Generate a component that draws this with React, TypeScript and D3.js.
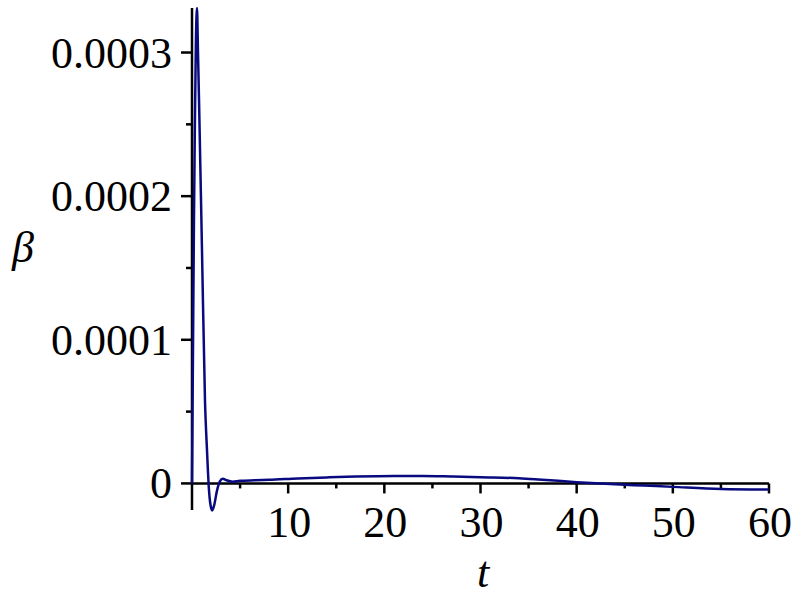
import React from "react";
import * as d3 from "d3";

const tValues = [
  0, 0.1, 0.2, 0.3, 0.4, 0.52, 0.62, 0.73, 1.04, 1.35, 1.56, 1.77, 2.0, 2.1,
  2.3, 2.6, 2.9, 3.2, 3.6, 4.2, 5, 6.5, 8, 11, 14, 17, 21, 24, 27, 30, 34,
  36, 40, 44.5, 47, 50, 55, 60,
];
const betaValues = [
  0, 0.00009, 0.00018, 0.00025, 0.000305, 0.000331, 0.000301, 0.000267,
  0.000162, 0.0000578, 0.000023, -0.000005, -0.0000174, -0.0000188,
  -0.0000153, -0.000005, 0.0000014, 0.0000033, 0.0000022, 0.0000012,
  0.0000018, 0.0000022, 0.0000025, 0.0000035, 0.0000042, 0.0000048,
  0.0000052, 0.0000052, 0.0000048, 0.0000043, 0.0000036, 0.0000028,
  0.0000009, -0.0000008, -0.0000015, -0.0000024, -0.0000038, -0.0000042,
];
const xTickLabels = [10, 20, 30, 40, 50, 60];
const xMinorTicks = [5, 15, 25, 35, 45, 55];
const yTickLabels = [0, 0.0001, 0.0002, 0.0003];
const yMinorTicks = [0.00005, 0.00015, 0.00025];

const FONT = "'Liberation Serif', 'DejaVu Serif', serif";

export default function App() {
  const x = d3.scaleLinear().domain([0, 60]).range([192, 769]);
  const y = d3.scaleLinear().domain([-0.0000185, 0.000331]).range([510, 8]);
  const pts = tValues.map((t, i) => [t, betaValues[i]] as [number, number]);
  const line = d3
    .line<[number, number]>()
    .x((d) => x(d[0]))
    .y((d) => y(d[1]))
    .curve(d3.curveMonotoneX);
  const fmt = (v: number) => (v === 0 ? "0" : v.toFixed(4));
  return (
    <svg
      width={800}
      height={600}
      style={{ position: "absolute", left: 0, top: 0, background: "#fff" }}
    >
      <rect x={0} y={0} width={800} height={600} fill="#fff" />
      {/* axes */}
      <line x1={192} x2={192} y1={y(0.000331)} y2={510} stroke="#000" strokeWidth={2.5} />
      <line x1={x(0)} x2={x(60)} y1={y(0)} y2={y(0)} stroke="#000" strokeWidth={2.5} />
      {yTickLabels.map((v) => (
        <g key={"y" + v}>
          <line x1={181} x2={192} y1={y(v)} y2={y(v)} stroke="#000" strokeWidth={2.5} />
          <text
            x={172}
            y={y(v) + 15}
            textAnchor="end"
            fontFamily={FONT}
            fontSize={44}
            fill="#000"
          >
            {fmt(v)}
          </text>
        </g>
      ))}
      {yMinorTicks.map((v) => (
        <line key={"ym" + v} x1={186} x2={192} y1={y(v)} y2={y(v)} stroke="#000" strokeWidth={2.5} />
      ))}
      {xTickLabels.map((v) => (
        <g key={"x" + v}>
          <line x1={x(v)} x2={x(v)} y1={y(0)} y2={y(0) + 10} stroke="#000" strokeWidth={2.5} />
          <text
            x={x(v) + 1}
            y={y(0) + 54}
            textAnchor="middle"
            fontFamily={FONT}
            fontSize={44}
            fill="#000"
          >
            {v}
          </text>
        </g>
      ))}
      {xMinorTicks.map((v) => (
        <line key={"xm" + v} x1={x(v)} x2={x(v)} y1={y(0)} y2={y(0) + 5} stroke="#000" strokeWidth={2.5} />
      ))}
      {/* curve */}
      <path d={line(pts) || ""} fill="none" stroke="#0a0a80" strokeWidth={2.5} />
      {/* axis labels */}
      <text x={483} y={587} textAnchor="middle" fontFamily={FONT} fontStyle="italic" fontSize={44} fill="#000">
        t
      </text>
      <text x={23} y={262} textAnchor="middle" fontFamily={FONT} fontStyle="italic" fontSize={44} fill="#000">
        β
      </text>
    </svg>
  );
}
